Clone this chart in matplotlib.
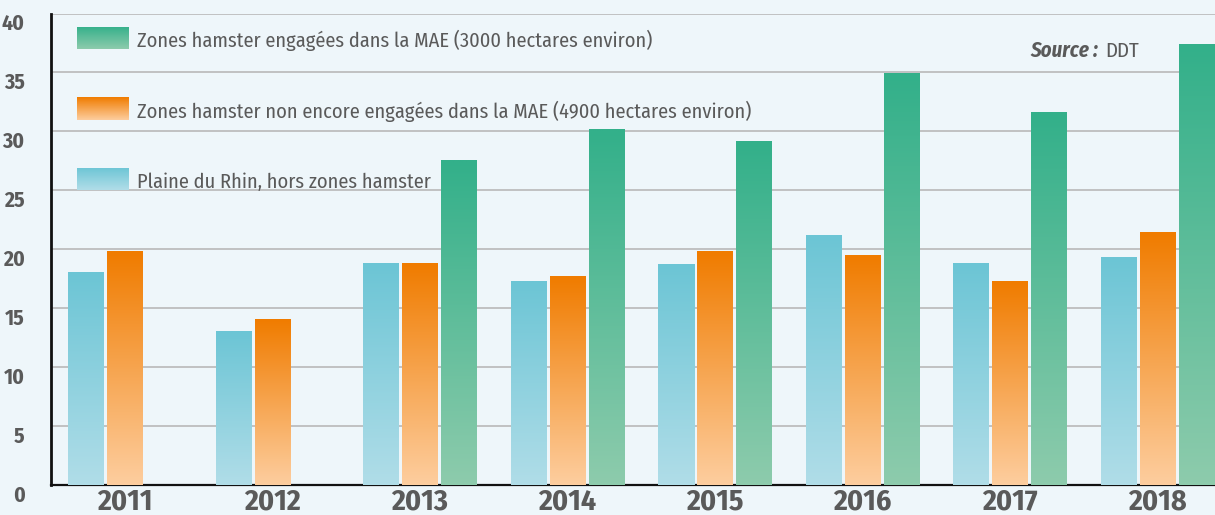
import numpy as np
import matplotlib
matplotlib.use("Agg")
import matplotlib.pyplot as plt
from matplotlib import font_manager
from matplotlib.colors import to_rgba

years = ["2011", "2012", "2013", "2014", "2015", "2016", "2017", "2018"]
plaine = [18.0, 13.0, 18.8, 17.3, 18.7, 21.2, 18.8, 19.3]
non_engagees = [19.8, 14.0, 18.8, 17.7, 19.8, 19.5, 17.3, 21.4]
engagees = [np.nan, np.nan, 27.5, 30.2, 29.1, 34.9, 31.6, 37.4]
labels = [
    "Zones hamster engagées dans la MAE (3000 hectares environ)",
    "Zones hamster non encore engagées dans la MAE (4900 hectares environ)",
    "Plaine du Rhin, hors zones hamster",
]
yticks = [0, 5, 10, 15, 20, 25, 30, 35, 40]

names = {f.name for f in font_manager.fontManager.ttflist}
FONT = "DejaVu Sans"
for cand in ["Fira Sans Condensed", "Asap Condensed", "Encode Sans Condensed",
             "Roboto Condensed", "PT Sans Narrow", "Open Sans Condensed",
             "Liberation Sans Narrow"]:
    if cand in names:
        FONT = cand
        break
plt.rcParams["font.family"] = [FONT, "DejaVu Sans"]

BG = "#eef6fa"
TXT = "#5a5a5a"
grad = {
    "blue": ("#6cc5d5", "#b0dde8"),
    "orange": ("#f07c00", "#fdcd9e"),
    "green": ("#33b08a", "#8dcbac"),
}

W, H = 1215, 515
fig = plt.figure(figsize=(W / 100, H / 100), dpi=100, facecolor=BG)
ax = fig.add_axes([51 / W, 1 - 485 / H, 1 - 51 / W, (485 - 13.5) / H])
ax.set_facecolor(BG)

x = np.arange(len(years))
off = 39 / 147.5
bw = 36 / 147.5


def gradient_img(top, bottom, n=64):
    t = np.linspace(0, 1, n)[:, None]
    a = np.array(to_rgba(top))
    b = np.array(to_rgba(bottom))
    return (a * (1 - t) + b * t)[:, None, :]


series = [(plaine, "blue", -off), (non_engagees, "orange", 0.0), (engagees, "green", off)]
for vals, key, dx in series:
    bars = ax.bar(x + dx, vals, width=bw, color="none", edgecolor="none", zorder=3)
    img = gradient_img(*grad[key])
    for r in bars:
        h = r.get_height()
        if not np.isfinite(h):
            continue
        x0 = r.get_x()
        ax.imshow(img, extent=(x0, x0 + r.get_width(), 0, h), aspect="auto",
                  origin="upper", interpolation="bilinear", zorder=3)

ax.set_xlim(-(125 - 51) / 147.5, len(years) - 1 + (1215 - 1157.5) / 147.5)
ax.set_ylim(0, 40)

ax.set_yticks(yticks)
ax.set_yticklabels([str(v) for v in yticks])
ax.set_xticks(x)
ax.set_xticklabels(years)
ax.grid(axis="y", color="#b8b8b8", linewidth=1.2, zorder=0)
ax.set_axisbelow(True)
ax.tick_params(axis="both", length=0)
ax.tick_params(axis="y", pad=19, labelsize=15.5, labelcolor=TXT)
ax.tick_params(axis="x", pad=2, labelsize=21.5, labelcolor=TXT)
for t in ax.get_yticklabels():
    t.set_fontweight("bold")
    t.set_verticalalignment("top")
for t in ax.get_xticklabels():
    t.set_fontweight("bold")

for s in ["top", "right"]:
    ax.spines[s].set_visible(False)
ax.spines["left"].set_color("#111111")
ax.spines["left"].set_linewidth(2)
ax.spines["bottom"].set_color("#111111")
ax.spines["bottom"].set_linewidth(1.6)
ax.spines["left"].set_zorder(4)


def fx(px):
    return px / W


def fy(py):
    return 1 - py / H


leg = [("green", 27, 49, 47), ("orange", 97, 120, 118), ("blue", 168, 190, 188)]
for (key, y0, y1, base), lab in zip(leg, labels):
    lax = fig.add_axes([fx(77), fy(y1), fx(129) - fx(77), (y1 - y0) / H])
    lax.imshow(gradient_img(*grad[key]), aspect="auto", interpolation="bilinear",
               extent=(0, 1, 0, 1), origin="upper")
    lax.set_axis_off()
    fig.text(fx(137), fy(base), lab, fontsize=14.7, color=TXT, va="baseline", ha="left")

fig.text(fx(1098), fy(57), "Source :", fontsize=15, color=TXT, fontweight="bold",
         fontstyle="italic", va="baseline", ha="right")
fig.text(fx(1105), fy(57), "DDT", fontsize=15, color=TXT, va="baseline", ha="left")

fig.savefig("out.png", dpi=100, facecolor=BG)
